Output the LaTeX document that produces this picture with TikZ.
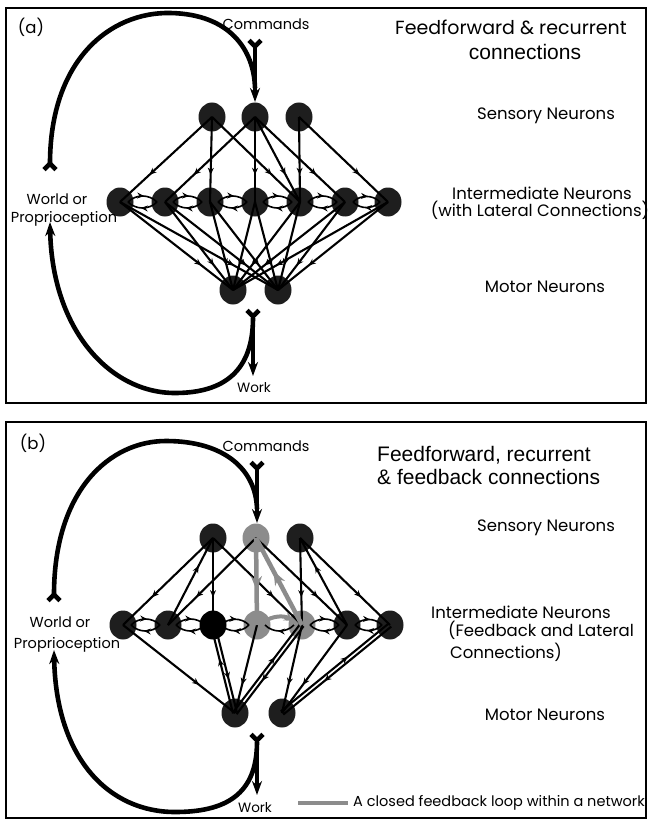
\documentclass[tikz,border=0pt]{standalone}
\usepackage{fontspec}
\setmainfont{Poppins}
\newfontfamily\arialf{Liberation Sans}
\usetikzlibrary{arrows.meta,decorations.markings,shapes.geometric,calc}
\definecolor{nodedark}{HTML}{1E1E1E}
\definecolor{loopgray}{HTML}{8C8C8C}
\tikzset{
 neuron/.style={ellipse, fill=nodedark, minimum width=27pt, minimum height=29pt, inner sep=0pt},
 grayneuron/.style={neuron, fill=loopgray},
 blackneuron/.style={neuron, fill=black},
 midarr/.style={postaction={decorate}, decoration={markings, mark=at position #1 with {\arrow{Stealth[length=7pt,width=6pt]}}}},
 conn/.style={line width=2.1pt, midarr=#1},
 conn/.default=0.68,
 latline/.style={line width=1.6pt, midarr=0.55},
 grayconn/.style={line width=4.5pt, loopgray, postaction={decorate}, decoration={markings, mark=at position #1 with {\arrow{Stealth[length=14pt,width=11pt]}}}},
 bigline/.style={line width=4.6pt},
 bigtip/.style={bigline, -{Stealth[length=14pt,width=10pt]}},
 barbstart/.style={bigline, {Straight Barb[reversed,length=6pt,width=12pt]}-{Stealth[length=14pt,width=10pt]}},
 barbonly/.style={bigline, {Straight Barb[reversed,length=6pt,width=12pt]}-},
 lbl/.style={font=\fontsize{16.5}{18}\selectfont, inner sep=0pt},
 sml/.style={font=\fontsize{14.5}{16}\selectfont, inner sep=0pt},
 ttl/.style={font=\arialf\fontsize{21}{23}\selectfont, inner sep=0pt},
 panelframe/.style={line width=2.5pt},
}
\newcommand\latpair[2]{%
 \draw[latline] ($(#1.center)+(8,0)$) to[bend left=45] ($(#2.center)+(-8,0)$);
 \draw[latline] ($(#2.center)+(-8,0)$) to[bend left=45] ($(#1.center)+(8,0)$);}
\newcommand\dbledge[2]{%
 \draw[conn=0.62] ($(#1.center)!2pt!90:(#2.center)$) -- ($(#2.center)!2pt!-90:(#1.center)$);
 \draw[conn=0.62] ($(#2.center)!2pt!90:(#1.center)$) -- ($(#1.center)!2pt!-90:(#2.center)$);}
\begin{document}
\begin{tikzpicture}[x=1pt,y=-1pt]
\useasboundingbox (0,0) rectangle (649,821);
\fill[white] (0,0) rectangle (649,821);

% ================= panel (a) =================
\draw[panelframe] (6,8) rectangle (646,403);
\node[neuron] (aS1) at (212,117) {};
\node[neuron] (aS2) at (255,117) {};
\node[neuron] (aS3) at (299,117) {};
\foreach \n/\x in {1/120,2/165,3/210,4/255,5/300,6/345,7/388}
  \node[neuron] (aI\n) at (\x,202) {};
\node[neuron] (aM1) at (233,290) {};
\node[neuron] (aM2) at (278,290) {};

\foreach \s/\t in {aS1/aI1,aS1/aI3,aS1/aI5,aS2/aI2,aS2/aI4,aS2/aI5,aS2/aI6,aS3/aI5,aS3/aI7}
  \draw[conn] (\s.center) -- (\t.center);
\foreach \n in {1,...,7}{
  \draw[conn=0.72] (aI\n.center) -- (aM1.center);
  \draw[conn=0.72] (aI\n.center) -- (aM2.center);}
\latpair{aI1}{aI2}\latpair{aI2}{aI3}\latpair{aI3}{aI4}
\latpair{aI4}{aI5}\latpair{aI5}{aI6}\latpair{aI6}{aI7}

\coordinate (aCmdTop) at (255,38);
\coordinate (aCmdTip) at (255,102);
\coordinate (aArcEnd) at (255,88);
\coordinate (aWorldTop) at (50,172);
\coordinate (aWorldBot) at (50,222);
\coordinate (aWorkTop) at (253,308);
\coordinate (aWorkTip) at (253,376);
\coordinate (aWorkJoin) at (253,318);
\draw[barbonly] (aWorldTop) .. controls (50,60) and (110,12) .. (170,13) .. controls (230,14) and (254,50) .. (aArcEnd);
\draw[barbstart] (aCmdTop) -- (aCmdTip);
\draw[bigtip] (aWorkJoin) .. controls (253,370) and (225,393) .. (175,393) .. controls (110,393) and (52,330) .. (aWorldBot);
\draw[barbstart] (aWorkTop) -- (aWorkTip);

\node[lbl] (aLab) at (31,27) {(a)};
\node[sml] (aCmd) at (266,24) {Commands};
\node[sml, font=\fontsize{13.5}{15}\selectfont] (aWork) at (254,388) {Work};
\node[sml] (aWorld1) at (57,199) {World or};
\node[sml] (aWorld2) at (64,219) {Proprioception};
\node[lbl, font=\fontsize{19}{21}\selectfont] (aT1) at (511,27) {Feedforward \& recurrent};
\node[ttl] (aT2) at (525,52) {connections};
\node[lbl] (aSen) at (546,116) {Sensory Neurons};
\node[lbl] (aInt1) at (542,193) {Intermediate Neurons};
\node[lbl] (aInt2) at (540,210) {(with Lateral Connections)};
\node[lbl] (aMot) at (545,287) {Motor Neurons};

% ================= panel (b) =================
\draw[panelframe] (6,422) rectangle (646,818);
\node[neuron] (bS1) at (213,538) {};
\node[grayneuron] (bS2) at (256,538) {};
\node[neuron] (bS3) at (300,538) {};
\node[neuron] (bI1) at (123,625) {};
\node[neuron] (bI2) at (168,625) {};
\node[blackneuron] (bI3) at (213,625) {};
\node[grayneuron] (bI4) at (257,625) {};
\node[grayneuron] (bI5) at (302,625) {};
\node[neuron] (bI6) at (347,625) {};
\node[neuron] (bI7) at (390,625) {};
\node[neuron] (bM1) at (235,713) {};
\node[neuron] (bM2) at (282,713) {};

\foreach \s/\t in {bS1/bI1,bI2/bS1,bS1/bI3,bS1/bI5,bS2/bI2,bS2/bI6,bS3/bI5,bI6/bS3,bS3/bI7}
  \draw[conn] (\s.center) -- (\t.center);
\foreach \s/\t in {bI1/bM1,bI4/bM1,bI5/bM2,bI6/bM2}
  \draw[conn=0.68] (\s.center) -- (\t.center);
\dbledge{bI3}{bM1}
\dbledge{bI5}{bM1}
\dbledge{bI7}{bM2}
\latpair{bI1}{bI2}\latpair{bI2}{bI3}\latpair{bI3}{bI4}
\latpair{bI5}{bI6}\latpair{bI6}{bI7}
\draw[latline] ($(bI5.center)+(-8,0)$) to[bend left=45] ($(bI4.center)+(8,0)$);
\draw[grayconn=0.6] (bS2.center) -- (bI4.center);
\draw[grayconn=0.62] (bI5.center) -- (bS2.center);
\draw[line width=4pt, loopgray, -{Stealth[length=10pt,width=9pt]}] ($(bI4.center)+(6,-3)$) to[bend left=30] ($(bI5.center)+(-8,-4)$);

\coordinate (bCmdTop) at (257,460);
\coordinate (bCmdTip) at (257,523);
\coordinate (bArcEnd) at (257,509);
\coordinate (bWorldTop) at (54,603);
\coordinate (bWorldBot) at (54,650);
\coordinate (bWorkTop) at (257,732);
\coordinate (bWorkTip) at (257,795);
\coordinate (bWorkJoin) at (257,742);
\draw[barbonly] (bWorldTop) .. controls (54,490) and (110,441) .. (166,441) .. controls (225,441) and (256,470) .. (bArcEnd);
\draw[barbstart] (bCmdTop) -- (bCmdTip);
\draw[bigtip] (bWorkJoin) .. controls (257,795) and (225,812) .. (175,812) .. controls (110,812) and (56,760) .. (bWorldBot);
\draw[barbstart] (bWorkTop) -- (bWorkTip);

\node[lbl] (bLab) at (33,443) {(b)};
\node[sml] (bCmd) at (266,446) {Commands};
\node[sml, font=\fontsize{13.5}{15}\selectfont] (bWork) at (255,808) {Work};
\node[sml] (bWorld1) at (60,622) {World or};
\node[sml] (bWorld2) at (67,645) {Proprioception};
\node[ttl, anchor=west] (bT1) at (377,455) {Feedforward, recurrent};
\node[ttl, anchor=west] (bT2) at (377,477) {\& feedback connections};
\node[lbl] (bSen) at (546,528) {Sensory Neurons};
\node[lbl] (bInt1) at (521,612) {Intermediate Neurons};
\node[lbl] (bInt2) at (541,630) {(Feedback and Lateral};
\node[lbl] (bInt3) at (506,652) {Connections)};
\node[lbl] (bMot) at (545,715) {Motor Neurons};

\coordinate (legA) at (298,803);
\coordinate (legB) at (348,803);
\draw[line width=4.5pt, loopgray] (legA) -- (legB);
\node[sml] [anchor=west] (legText) at (353,803) {A closed feedback loop within a network};
\end{tikzpicture}
\end{document}
